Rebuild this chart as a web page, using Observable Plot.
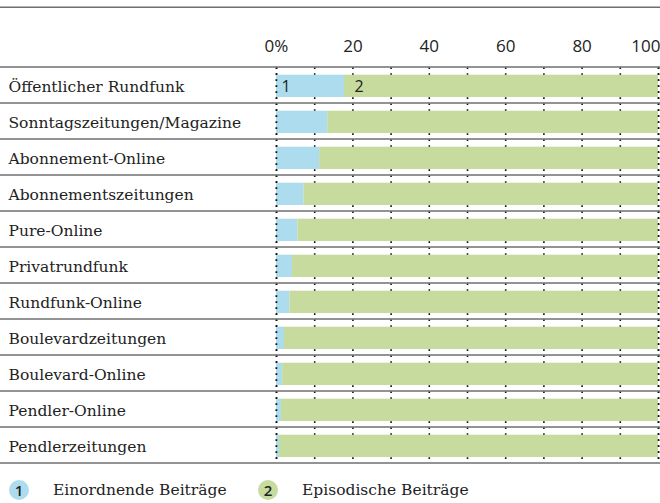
<!DOCTYPE html>
<html>
<head>
<meta charset="utf-8">
<script src="https://cdn.jsdelivr.net/npm/d3@7"></script>
<script src="https://cdn.jsdelivr.net/npm/@observablehq/plot@0.6"></script>
<style>
  html, body { margin: 0; padding: 0; background: #fff; }
  #chart { width: 660px; }
  .legend { position: relative; height: 33px; font-family: "DejaVu Serif", serif; font-size: 15.5px; color: #222; }
  .legend .dot { position: absolute; width: 20px; height: 20px; border-radius: 50%; top: 10px;
    font-family: "Open Sans", sans-serif; font-size: 15px; font-weight: 600; color: #222; line-height: 20px;
    display: flex; align-items: center; justify-content: center; }
  .legend .lab { position: absolute; top: 9.5px; line-height: 21px; }
</style>
</head>
<body>
<div id="chart"></div>
<script>
const categories = [
  "Öffentlicher Rundfunk",
  "Sonntagszeitungen/Magazine",
  "Abonnement-Online",
  "Abonnementszeitungen",
  "Pure-Online",
  "Privatrundfunk",
  "Rundfunk-Online",
  "Boulevardzeitungen",
  "Boulevard-Online",
  "Pendler-Online",
  "Pendlerzeitungen"
];
const einordnend = [17.8, 13.4, 11.3, 7.2, 5.6, 4.2, 3.5, 2.1, 1.6, 1.3, 0.8];
const episodisch = einordnend.map(v => 100 - v);
const seriesNames = ["Einordnende Beiträge", "Episodische Beiträge"];
const seriesNums = ["1", "2"];
const seriesColors = ["#addcef", "#c6db9d"];
const tickValues = [0, 20, 40, 60, 80];
const tickLabels = ["0%", "20", "40", "60", "80"];
const lastTick = 100;
const lastTickLabel = "100";
const gridValues = d3.range(0, 101, 10);

const rows = [];
categories.forEach((c, i) => {
  rows.push({cat: c, series: seriesNames[0], value: einordnend[i]});
  rows.push({cat: c, series: seriesNames[1], value: episodisch[i]});
});

const serif = "DejaVu Serif, serif";
const sans = "Open Sans, sans-serif";

const chart = Plot.plot({
  width: 660,
  height: 470,
  marginTop: 67.3,
  marginBottom: 6.7,
  marginLeft: 276,
  marginRight: 2,
  style: {fontFamily: sans, background: "#fff", overflow: "visible"},
  x: {domain: [0, 100], axis: null},
  y: {domain: categories, padding: 0, axis: null},
  color: {domain: seriesNames, range: seriesColors},
  marks: [
    Plot.ruleX(gridValues, {x: d => d, stroke: "#111", strokeWidth: 1.6, strokeDasharray: "1.6 4.4"}),
    Plot.barX(rows, Plot.stackX({x: "value", y: "cat", fill: "series", order: seriesNames, insetTop: 7.7, insetBottom: 6})),
    Plot.ruleX([0, 100], {x: d => d, stroke: "#111", strokeWidth: 1.6, strokeDasharray: "1.6 4.4"}),
    Plot.text(categories, {y: d => d, text: d => d, frameAnchor: "left", textAnchor: "start", dx: -268, dy: 2, fontFamily: serif, fontSize: 15.5, fill: "#222"}),
    Plot.text(tickValues, {x: d => d, text: (d, i) => tickLabels[i], frameAnchor: "top", dy: -28, fontSize: 17, fill: "#222"}),
    Plot.text([lastTick], {x: d => d, text: () => lastTickLabel, frameAnchor: "top", textAnchor: "end", dy: -28, dx: 2, fontSize: 17, fill: "#222"}),
    Plot.text([0], {x: d => d, y: () => categories[0], text: () => seriesNums[0], textAnchor: "start", dx: 5, dy: 1, fontSize: 16, fill: "#222"}),
    Plot.text([einordnend[0]], {x: d => d, y: () => categories[0], text: () => seriesNums[1], textAnchor: "start", dx: 10, dy: 1, fontSize: 16, fill: "#222"})
  ]
});

// Row separators and top rule extending across the full width
const yScale = chart.scale("y");
const bw = yScale.bandwidth;
const edges = categories.map(c => yScale.apply(c)).concat([yScale.apply(categories[categories.length - 1]) + bw]);
const svg = d3.select(chart.tagName.toLowerCase() === "svg" ? chart : chart.querySelector("svg"));
const g = svg.append("g");
g.selectAll("line.sep").data(edges).join("line")
  .attr("x1", 0).attr("x2", 660)
  .attr("y1", d => d).attr("y2", d => d)
  .attr("stroke", "#6f6f6f").attr("stroke-width", 1.6);
g.append("line").attr("x1", 0).attr("x2", 660).attr("y1", 7.3).attr("y2", 7.3)
  .attr("stroke", "#6f6f6f").attr("stroke-width", 1.6);

document.getElementById("chart").appendChild(chart);

// Legend
const legend = d3.select("body").append("div").attr("class", "legend");
const dotX = [9, 258];
const labX = [53, 302];
seriesNames.forEach((s, i) => {
  legend.append("div").attr("class", "dot").style("left", dotX[i] + "px").style("background", seriesColors[i]).text(seriesNums[i]);
  legend.append("div").attr("class", "lab").style("left", labX[i] + "px").text(s);
});
</script>
</body>
</html>
